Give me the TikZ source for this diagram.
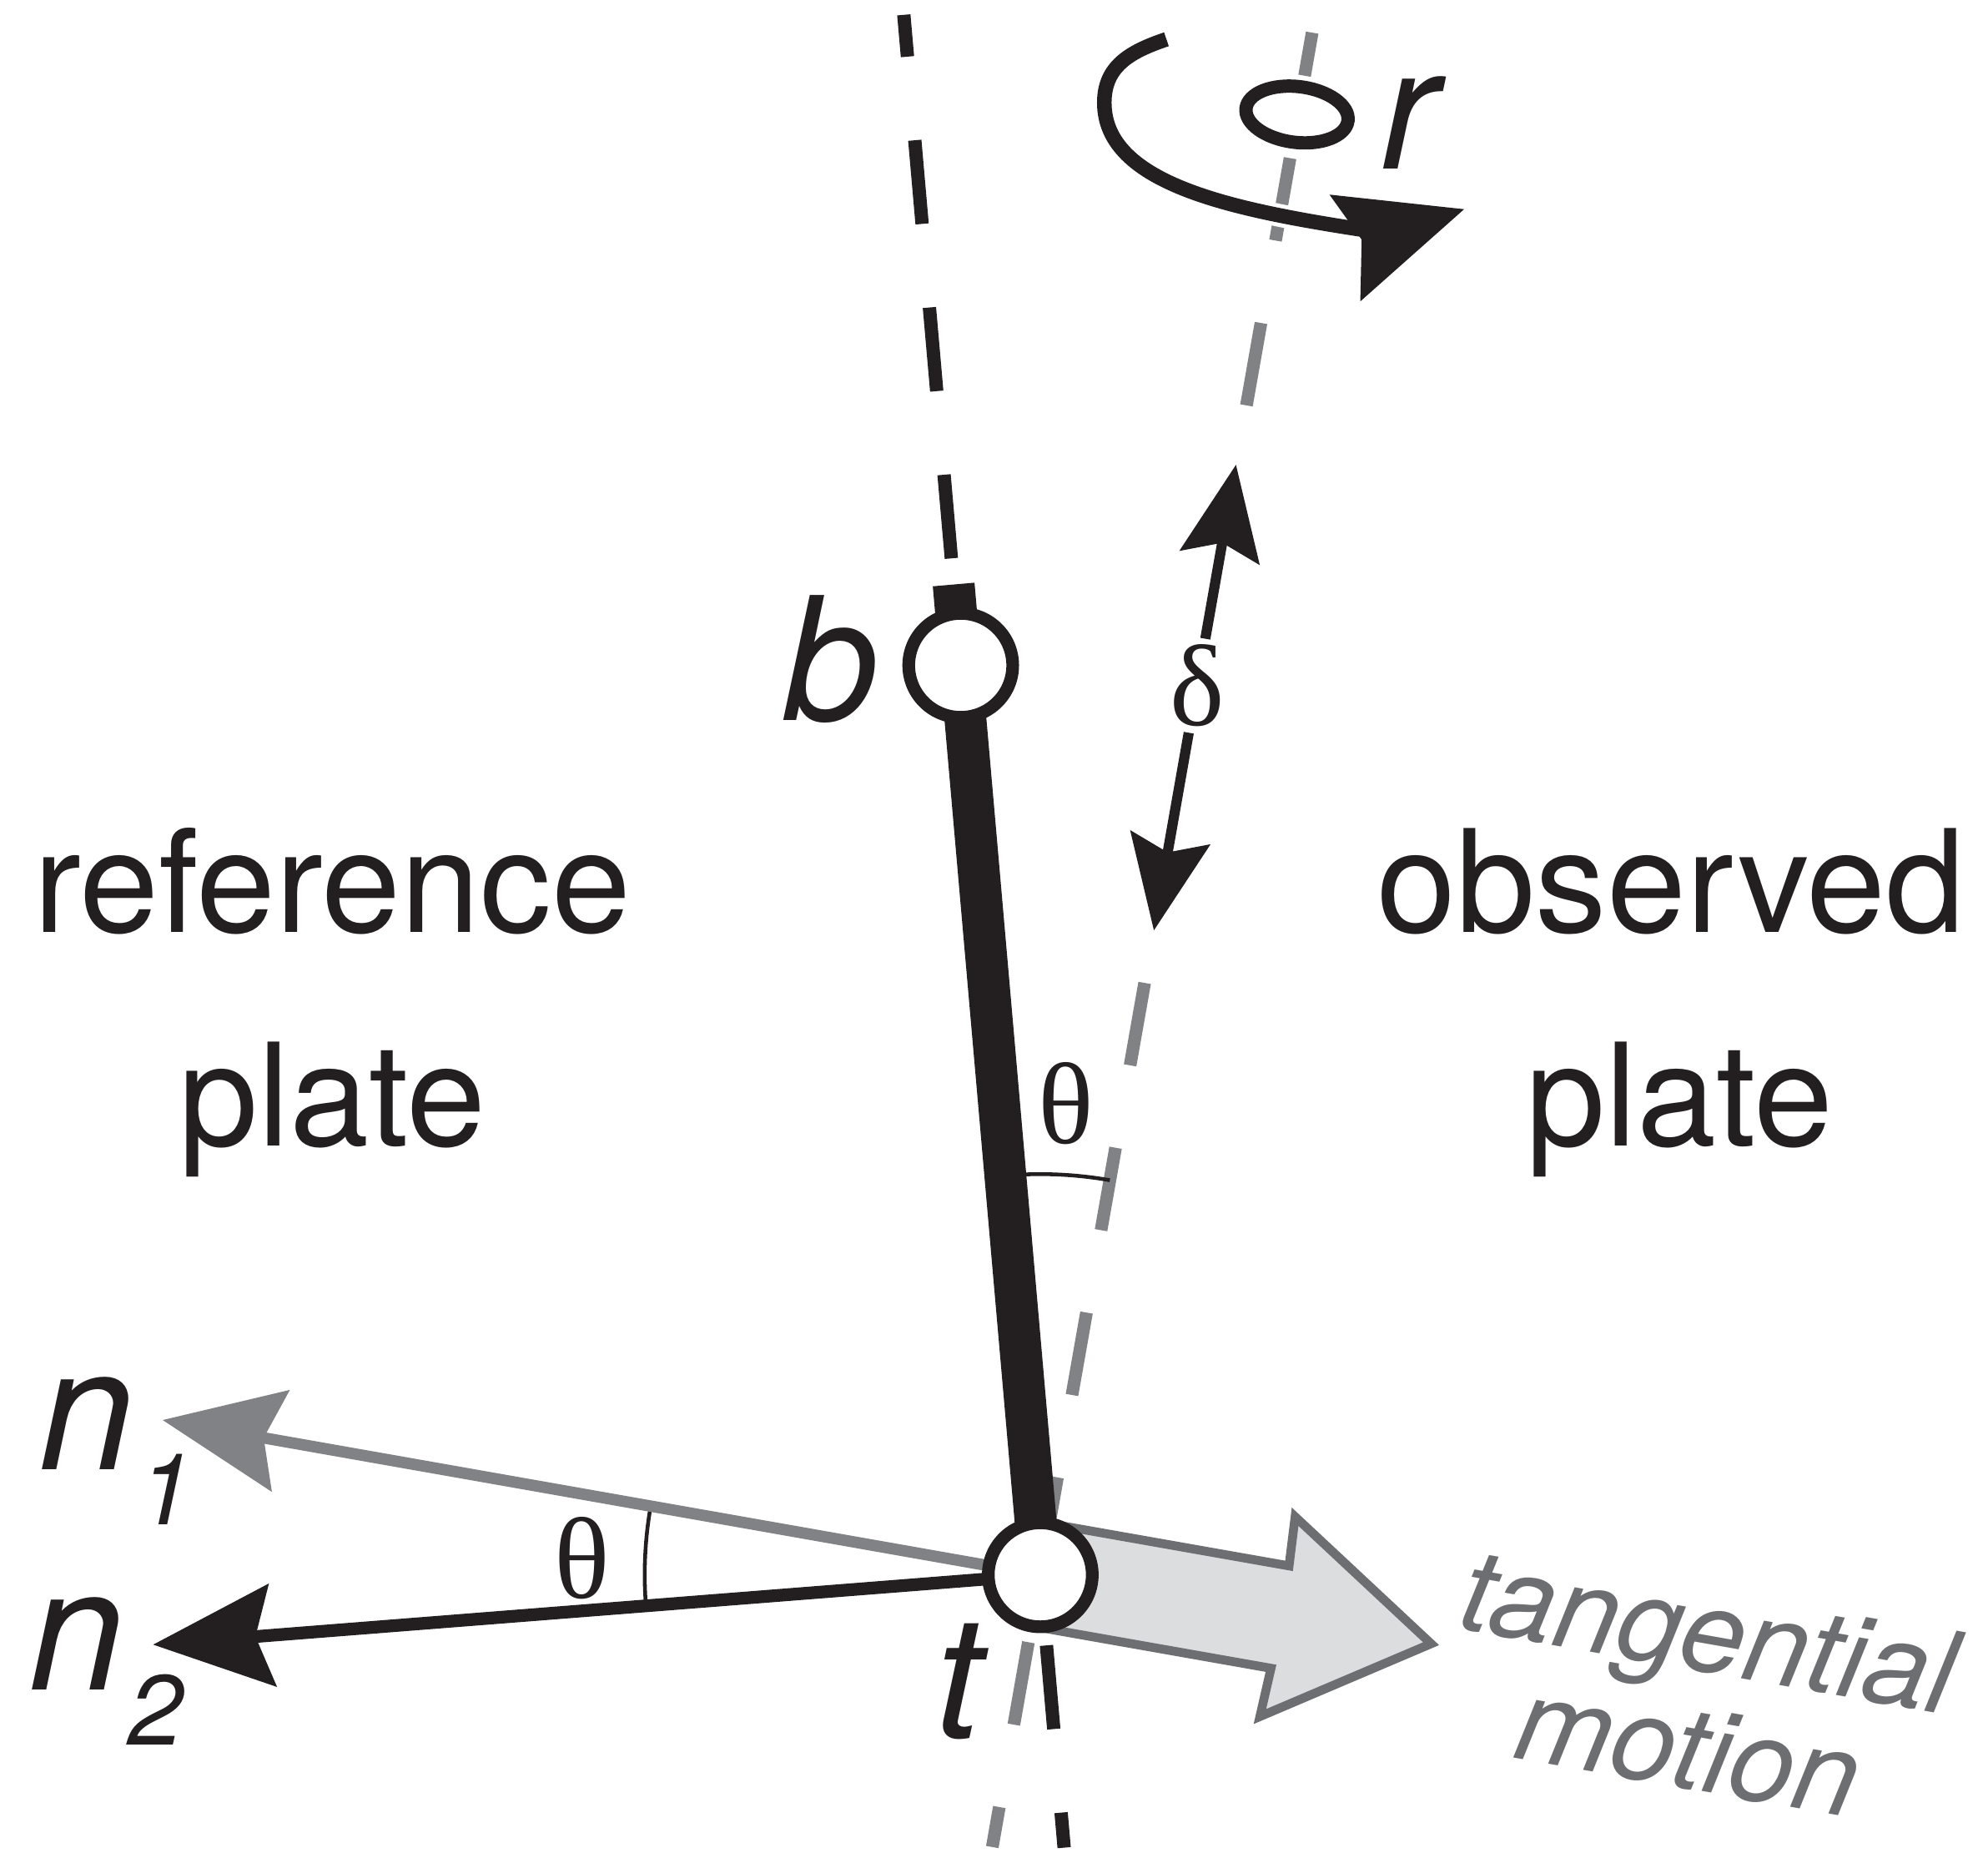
\documentclass[tikz,border=0pt]{standalone}
\usepackage{fontspec}
\setmainfont{TeX Gyre Heros}
\newfontfamily\greekfont{Liberation Serif}
\usetikzlibrary{arrows.meta,calc,backgrounds}
\definecolor{ink}{HTML}{231F20}
\definecolor{axisgray}{HTML}{808285}
\definecolor{textgray}{HTML}{6D6E71}
\definecolor{motionfill}{HTML}{DCDDDE}

\begin{document}
\begin{tikzpicture}[x=0.1mm,y=0.1mm,every node/.style={text=ink},
  plate/.style={font=\fontsize{32}{32}\selectfont,anchor=base,inner sep=0pt},
  lbl/.style={font=\fontsize{38.5}{38.5}\selectfont\itshape,anchor=base,inner sep=0pt},
  greek/.style={font=\fontsize{26}{26}\selectfont\greekfont,inner sep=0.4mm},
  joint/.style={circle,draw=ink,fill=white,line width=1mm,minimum size=8.2mm,inner sep=0pt},
  normaltip/.style={-{Stealth[length=9.4mm,width=8mm,inset=1.3mm]}},
  deltatip/.style={-{Stealth[length=7.4mm,width=6.3mm,inset=1.15mm]}}]
\useasboundingbox (0,0) rectangle (1568,1461);
\node[joint] (t) at (820.5,219) {};
\node[joint] (b) at ($(t.center)+(95:720)$) {};

\begin{scope}[on background layer]
% plate axes
\draw[axisgray,line width=1mm,dash pattern=on 6.6mm off 6.6mm,dash phase=3.15mm] ($(t.center)+(80:1235)$) -- ($(t.center)+(80:926)$);
\draw[axisgray,line width=1mm,dash pattern=on 6.6mm off 6.6mm] ($(t.center)+(80:474)$) -- ($(t.center)+(260:218)$);
\draw[ink,line width=1.05mm,dash pattern=on 6.62mm off 6.62mm,dash phase=3.31mm] ($(t.center)+(95:1235)$) -- ($(t.center)+(275:216)$);
% rotation r
\draw[white,line width=1.8mm] (920,1430) .. controls (890,1420) and (871,1408) .. (871,1380) .. controls (871,1315) and (975,1295) .. (1080,1279);
\draw[ink,line width=1.15mm] (920,1430) .. controls (890,1420) and (871,1408) .. (871,1380) .. controls (871,1315) and (975,1295) .. (1080,1279);
\fill[ink] (1074,1272) -- (1048.6,1307.5) -- (1154.8,1296) -- (1072.9,1223.3) -- cycle;
\draw[ink,fill=white,line width=1.05mm,rotate around={-7:(1023,1370.7)}] (1023,1370.7) ellipse[x radius=40.5,y radius=22];
% angles
\draw[ink,line width=0.3mm] ($(t.center)+(80:316)$) arc[start angle=80,end angle=95,radius=316];
\draw[ink,line width=0.3mm] ($(t.center)+(170:312)$) arc[start angle=170,end angle=184.5,radius=312];
% tangential motion
\draw[textgray,fill=motionfill,line width=0.7mm,shift={(t.center)},rotate=-10] (0,41) -- (192,41) -- (190,80) -- (313,0) -- (190,-80) -- (192,-41) -- (0,-41) -- cycle;
% normals
\draw[axisgray,line width=0.9mm,normaltip] (t.center) -- ($(t.center)+(170:703)$);
\draw[ink,line width=1mm,normaltip] (t.center) -- ($(t.center)+(184.5:702)$);
% bar
\draw[ink,line width=3.3mm] (t.center) -- ($(t.center)+(95:784)$);
\end{scope}

\node[greek] (delta) at ($(t.center)+(80:712)$) {δ};
\draw[ink,line width=0.8mm,deltatip] (delta) -- ($(t.center)+(80:889)$);
\draw[ink,line width=0.8mm,deltatip] (delta) -- ($(t.center)+(80:516)$);
\node[greek] (thetatop) at (841,591) {θ};
\node[greek] (thetalow) at (459,232) {θ};

\node[lbl] (blabel) at (655,893) {b};
\node[lbl] (tlabel) at (756,90) {t};
\node[lbl] (rlabel) at (1111,1328) {r};
\node[lbl,anchor=base west] (n1) at (30,302) {n\kern0.3mm\raisebox{-4.35mm}{\fontsize{22.3}{22.3}\selectfont 1}};
\node[lbl,anchor=base west] (n2) at (22,128) {n\kern0.3mm\raisebox{-4.35mm}{\fontsize{22.3}{22.3}\selectfont 2}};

\node[plate] (ref) at (262,726) {reference};
\node[plate] (refplate) at (262,557) {plate};
\node[plate] (obs) at (1318,726) {observed};
\node[plate] (obsplate) at (1325,557) {plate};
\node[font=\fontsize{26}{26.5}\selectfont\itshape,text=textgray,rotate=-10,align=center] (motion) at (1340,129) {tangential\\motion};
\end{tikzpicture}
\end{document}
